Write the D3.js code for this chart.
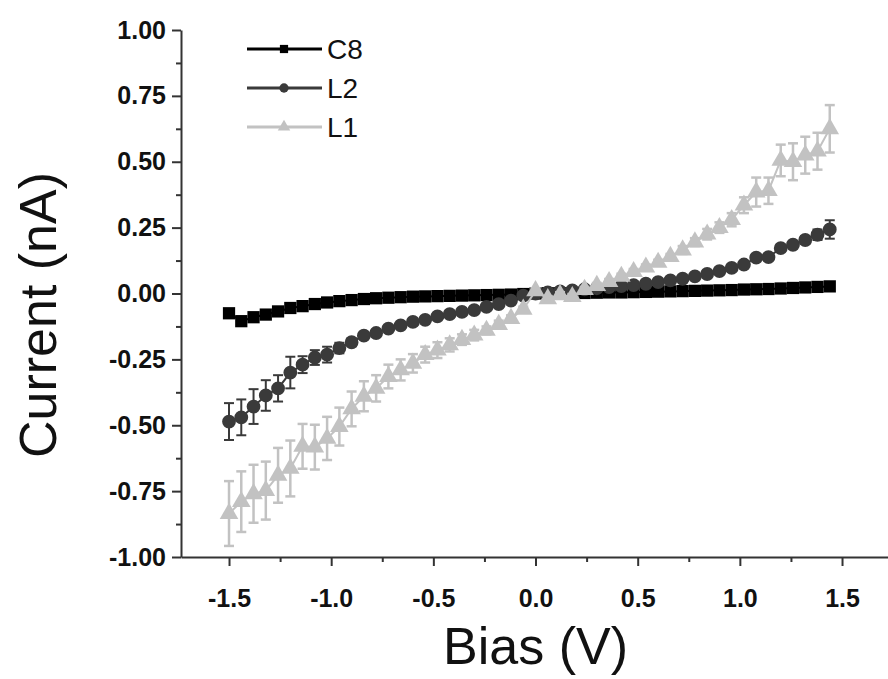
<!DOCTYPE html>
<html lang="en">
<head>
    <meta charset="UTF-8">
    <title>I-V curves C8 / L2 / L1</title>
    <script src="https://d3js.org/d3.v7.min.js"></script>
    <style>
        body { margin: 0; background: #fff; }
        text { font-family: "Liberation Sans", Arial, sans-serif; }
    </style>
</head>
<body>
    <svg id="iv_chart" width="888" height="679"></svg>
    <script>
        // bias sweep (V)
        const bias = [-1.50, -1.44, -1.38, -1.32, -1.26, -1.20, -1.14, -1.08, -1.02, -0.96,
                      -0.90, -0.84, -0.78, -0.72, -0.66, -0.60, -0.54, -0.48, -0.42, -0.36,
                      -0.30, -0.24, -0.18, -0.12, -0.06, 0.00, 0.06, 0.12, 0.18, 0.24,
                      0.30, 0.36, 0.42, 0.48, 0.54, 0.60, 0.66, 0.72, 0.78, 0.84,
                      0.90, 0.96, 1.02, 1.08, 1.14, 1.20, 1.26, 1.32, 1.38, 1.44];

        // current (nA)
        const c8 = [-0.075, -0.105, -0.090, -0.080, -0.068, -0.055, -0.048, -0.040, -0.034, -0.029,
                    -0.025, -0.021, -0.018, -0.016, -0.014, -0.012, -0.011, -0.010, -0.009, -0.008,
                    -0.007, -0.006, -0.005, -0.004, -0.002, 0.000, 0.001, 0.001, 0.002, 0.002,
                    0.003, 0.004, 0.004, 0.005, 0.006, 0.007, 0.008, 0.009, 0.010, 0.011,
                    0.012, 0.013, 0.015, 0.016, 0.017, 0.019, 0.021, 0.023, 0.025, 0.027];

        const l2 = [-0.486, -0.470, -0.429, -0.387, -0.360, -0.300, -0.270, -0.243, -0.232, -0.207,
                    -0.185, -0.160, -0.150, -0.133, -0.121, -0.108, -0.100, -0.087, -0.078, -0.070,
                    -0.063, -0.051, -0.040, -0.027, -0.008, 0.000, 0.004, 0.008, 0.012, 0.016,
                    0.020, 0.024, 0.028, 0.032, 0.037, 0.043, 0.050, 0.056, 0.065, 0.074,
                    0.085, 0.097, 0.110, 0.136, 0.138, 0.172, 0.185, 0.203, 0.223, 0.243];
        const l2Err = [0.070, 0.068, 0.066, 0.058, 0.050, 0.060, 0.032, 0.028, 0.030, 0.020,
                       0.015, 0.012, 0.010, 0.010, 0.008, 0.008, 0.008, 0.008, 0.006, 0.006,
                       0.006, 0.006, 0.005, 0.005, 0.005, 0.005, 0.005, 0.005, 0.005, 0.005,
                       0.005, 0.005, 0.005, 0.005, 0.005, 0.005, 0.006, 0.006, 0.006, 0.008,
                       0.008, 0.008, 0.010, 0.010, 0.010, 0.012, 0.012, 0.015, 0.020, 0.035];

        const l1 = [-0.835, -0.790, -0.760, -0.748, -0.690, -0.664, -0.580, -0.583, -0.550, -0.505,
                    -0.438, -0.390, -0.360, -0.315, -0.290, -0.265, -0.232, -0.215, -0.195, -0.175,
                    -0.158, -0.140, -0.118, -0.095, -0.060, 0.010, -0.020, -0.005, -0.012, 0.015,
                    0.030, 0.045, 0.065, 0.083, 0.100, 0.118, 0.140, 0.165, 0.195, 0.225,
                    0.250, 0.280, 0.335, 0.385, 0.390, 0.505, 0.500, 0.525, 0.540, 0.625];
        const l1Err = [0.123, 0.115, 0.110, 0.110, 0.104, 0.106, 0.085, 0.085, 0.082, 0.072,
                       0.066, 0.057, 0.050, 0.045, 0.040, 0.035, 0.030, 0.030, 0.025, 0.020,
                       0.020, 0.015, 0.015, 0.012, 0.010, 0.010, 0.010, 0.010, 0.010, 0.010,
                       0.010, 0.010, 0.010, 0.010, 0.010, 0.010, 0.010, 0.015, 0.015, 0.020,
                       0.020, 0.025, 0.030, 0.055, 0.050, 0.060, 0.070, 0.070, 0.070, 0.090];

        const yTicks = [-1.00, -0.75, -0.50, -0.25, 0.00, 0.25, 0.50, 0.75, 1.00];
        const xTicks = [-1.5, -1.0, -0.5, 0.0, 0.5, 1.0, 1.5];

        const series = [
            { name: "C8", values: c8, err: null, color: "#000000", shape: d3.symbolSquare, size: 150, errWidth: 2 },
            { name: "L2", values: l2, err: l2Err, color: "#3a3a3a", shape: d3.symbolCircle, size: 150, errWidth: 2 },
            { name: "L1", values: l1, err: l1Err, color: "#c2c2c2", shape: d3.symbolTriangle, size: 150, errWidth: 2.5 }
        ];

        const svg = d3.select("#iv_chart");

        const x = d3.scaleLinear().domain([-1.735, 1.725]).range([181, 888]);
        const y = d3.scaleLinear().domain([-1, 1]).range([557, 30]);

        const axisColor = "#333";
        // plain hyphen for negatives, like the original figure
        const fmt = f => v => d3.format(f)(v).replace("\u2212", "-");

        // x axis
        svg.append("g")
            .attr("transform", `translate(0,${y(-1)})`)
            .call(d3.axisBottom(x).tickValues(xTicks).tickFormat(fmt(".1f")).tickSize(9).tickSizeOuter(0).tickPadding(23));
        svg.append("g")
            .attr("transform", `translate(0,${y(-1)})`)
            .call(d3.axisBottom(x).tickValues([-1.25, -0.75, -0.25, 0.25, 0.75, 1.25]).tickFormat("").tickSize(5).tickSizeOuter(0))
            .select(".domain").remove();

        // y axis
        svg.append("g")
            .attr("transform", `translate(${x.range()[0]},0)`)
            .call(d3.axisLeft(y).tickValues(yTicks).tickFormat(fmt(".2f")).tickSize(9).tickSizeOuter(0).tickPadding(6));
        svg.append("g")
            .attr("transform", `translate(${x.range()[0]},0)`)
            .call(d3.axisLeft(y).tickValues([-0.875, -0.625, -0.375, -0.125, 0.125, 0.375, 0.625, 0.875]).tickFormat("").tickSize(5).tickSizeOuter(0))
            .select(".domain").remove();

        svg.selectAll(".domain, .tick line")
            .attr("stroke", axisColor)
            .attr("stroke-width", 2);
        svg.selectAll(".tick text")
            .attr("fill", "#111")
            .style("font-size", "25px")
            .style("font-weight", "bold");

        // axis titles
        svg.append("text")
            .attr("x", x(0))
            .attr("y", 664)
            .attr("text-anchor", "middle")
            .style("font-size", "52px")
            .attr("fill", "#111")
            .text("Bias (V)");

        svg.append("text")
            .attr("transform", `translate(56,315) rotate(-90)`)
            .attr("text-anchor", "middle")
            .style("font-size", "52px")
            .attr("fill", "#111")
            .text("Current (nA)");

        // data
        const line = d3.line()
            .x((d, i) => x(bias[i]))
            .y(d => y(d));

        series.forEach(s => {
            const g = svg.append("g");

            g.append("path")
                .datum(s.values)
                .attr("d", line)
                .attr("fill", "none")
                .attr("stroke", s.color)
                .attr("stroke-width", 2);

            if (s.err) {
                const bars = g.selectAll(".err")
                    .data(s.values)
                    .join("g")
                    .attr("stroke", s.color)
                    .attr("stroke-width", s.errWidth);
                bars.append("line")
                    .attr("x1", (d, i) => x(bias[i]))
                    .attr("x2", (d, i) => x(bias[i]))
                    .attr("y1", (d, i) => y(d - s.err[i]))
                    .attr("y2", (d, i) => y(d + s.err[i]));
                [-1, 1].forEach(sign => {
                    bars.append("line")
                        .attr("x1", (d, i) => x(bias[i]) - 5)
                        .attr("x2", (d, i) => x(bias[i]) + 5)
                        .attr("y1", (d, i) => y(d + sign * s.err[i]))
                        .attr("y2", (d, i) => y(d + sign * s.err[i]));
                });
            }

            g.selectAll(".pt")
                .data(s.values)
                .join("path")
                .attr("transform", (d, i) => `translate(${x(bias[i])},${y(d)})`)
                .attr("d", d3.symbol().type(s.shape).size(s.size))
                .attr("fill", s.color);
        });

        // legend
        const legend = svg.append("g");
        series.forEach((s, i) => {
            const ly = 49 + i * 39;
            legend.append("line")
                .attr("x1", 247).attr("x2", 322)
                .attr("y1", ly).attr("y2", ly)
                .attr("stroke", s.color)
                .attr("stroke-width", 3);
            legend.append("path")
                .attr("transform", `translate(284,${ly})`)
                .attr("d", d3.symbol().type(s.shape).size(s.size * 0.45))
                .attr("fill", s.color);
            legend.append("text")
                .attr("x", 327)
                .attr("y", ly + 10)
                .style("font-size", "28px")
                .attr("fill", "#111")
                .text(s.name);
        });
    </script>
</body>
</html>
